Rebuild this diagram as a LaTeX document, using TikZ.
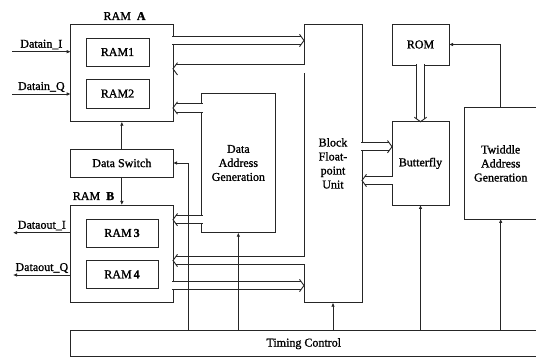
\documentclass[tikz,border=0pt]{standalone}
\usepackage{fontspec}
\setmainfont{Liberation Serif}[FakeBold=1.2]
\usetikzlibrary{arrows.meta,calc}

% hollow (double-line) bus arrow: #1 = start just inside the source box, #2 = tip on the target edge
\newcommand{\busarrow}[2]{%
  \draw[hol] (#1) -- ($(#2)!3.05pt!(#1)$);
  \draw[tipline] ($(#2)!4.5pt!(#1)!6.2pt!90:(#2)$) -- (#2) -- ($(#2)!4.5pt!(#1)!6.2pt!-90:(#2)$);
}

\begin{document}
\begin{tikzpicture}[x=1pt,y=-1pt,
  font=\fontsize{12}{14}\selectfont,
  box/.style={draw=black!85, line width=0.9pt, inner sep=0pt, outer sep=0pt,
              align=center, anchor=north west},
  arr/.style={draw=black!85, line width=0.8pt, -{Latex[length=4pt,width=3.6pt]}},
  hol/.style={draw=black!85, line width=0.9pt, double=white, double distance=7.5pt},
  tipline/.style={draw=black!85, line width=0.9pt},
  lbl/.style={midway, anchor=base, yshift=4pt, inner sep=0pt}]
\clip (0,0) rectangle (536,358);

% ---------------- blocks ----------------
\node[box, minimum width=102.3pt, minimum height=97.7pt] (ramA) at (70.7,24) {};
\node[box, minimum width=63pt, minimum height=28pt] (ram1) at (86,38) {RAM1};
\node[box, minimum width=63pt, minimum height=29pt] (ram2) at (86,79) {RAM2};
\node[anchor=base] (labA) at ($(ramA.north)+(2.7,-4)$) {RAM~~\textbf{A}};

\node[box, minimum width=102.3pt, minimum height=28pt] (dswitch) at (70.7,149) {Data Switch};

\node[box, minimum width=102.3pt, minimum height=97.7pt] (ramB) at (70.7,205) {};
\node[box, minimum width=72pt, minimum height=28pt] (ram3) at (86,219) {RAM\,\textbf{3}};
\node[box, minimum width=72pt, minimum height=27.3pt] (ram4) at (86,260.7) {RAM\,\textbf{4}};
\node[anchor=base] (labB) at ($(ramB.north)+(-28.3,-5)$) {RAM~~\textbf{B}};

\node[box, minimum width=73.3pt, minimum height=139.4pt] (dag) at (201.7,93.3)
  {Data\\Address\\Generation};
\node[box, minimum width=58pt, minimum height=278.7pt] (bfu) at (304,24)
  {Block\\Float-\\point\\Unit};
\node[box, minimum width=57pt, minimum height=41pt] (rom) at (392,24) {ROM};
\node[box, minimum width=57pt, minimum height=83.3pt] (bfly) at (392,121.7) {Butterfly};
\node[box, minimum width=73.4pt, minimum height=111.3pt] (twiddle) at (464,107.7)
  {Twiddle\\Address\\Generation};
\node[box, minimum width=466.2pt, minimum height=26pt] (timing) at (70.7,330.7) {Timing Control};

% ---------------- external ports ----------------
\coordinate (dinI) at (12,51.7);
\coordinate (dinQ) at (12,94);
\coordinate (doutI) at (13,232.7);
\coordinate (doutQ) at (13,275);
\draw[arr] (dinI) -- node[lbl]{Datain\_I} (dinI -| ramA.west);
\draw[arr] (dinQ) -- node[lbl]{Datain\_Q} (dinQ -| ramA.west);
\draw[arr] (doutI -| ramB.west) -- node[lbl]{Dataout\_I} (doutI);
\draw[arr] (doutQ -| ramB.west) -- node[lbl]{Dataout\_Q} (doutQ);

% ---------------- data switch ----------------
\draw[arr] (dswitch.north) -- (ramA.south);
\draw[arr] (dswitch.south) -- (ramB.north);

% ---------------- bus arrows ----------------
\coordinate (b1s) at ($(ramA.north east)+(-1,16.5)$);
\coordinate (b1t) at (b1s -| bfu.west);
\coordinate (b2s) at ($(bfu.north west)+(1,44.8)$);
\coordinate (b2t) at (b2s -| ramA.east);
\coordinate (b3s) at ($(dag.north west)+(1,14.7)$);
\coordinate (b3t) at (b3s -| ramA.east);
\coordinate (b4s) at ($(dag.south west)+(1,-13)$);
\coordinate (b4t) at (b4s -| ramB.east);
\coordinate (b5s) at ($(bfu.north west)+(1,236.5)$);
\coordinate (b5t) at (b5s -| ramB.east);
\coordinate (b6s) at ($(ramB.north east)+(-1,80.5)$);
\coordinate (b6t) at (b6s -| bfu.west);
\coordinate (b7s) at ($(bfu.north east)+(-1,122.7)$);
\coordinate (b7t) at (b7s -| bfly.west);
\coordinate (b8s) at ($(bfly.north west)+(1,58.8)$);
\coordinate (b8t) at (b8s -| bfu.east);
\coordinate (b9s) at ($(rom.south)+(0,-1)$);
\coordinate (b9t) at (bfly.north);
\busarrow{b1s}{b1t}
\busarrow{b2s}{b2t}
\busarrow{b3s}{b3t}
\busarrow{b4s}{b4t}
\busarrow{b5s}{b5t}
\busarrow{b6s}{b6t}
\busarrow{b7s}{b7t}
\busarrow{b8s}{b8t}
\busarrow{b9s}{b9t}

% ---------------- twiddle to ROM ----------------
\draw[arr] (twiddle.north) |- (rom.east);

% ---------------- timing control taps ----------------
\path (dswitch.east) ++(15.3,0) coordinate (swtap);
\draw[arr] (timing.north -| swtap) -- (swtap) -- (dswitch.east);
\draw[arr] (timing.north -| dag) -- (dag.south);
\draw[arr] (timing.north -| bfu) -- (bfu.south);
\draw[arr] (timing.north -| bfly) -- (bfly.south);
\draw[arr] (timing.north -| twiddle) -- (twiddle.south);
\end{tikzpicture}
\end{document}
